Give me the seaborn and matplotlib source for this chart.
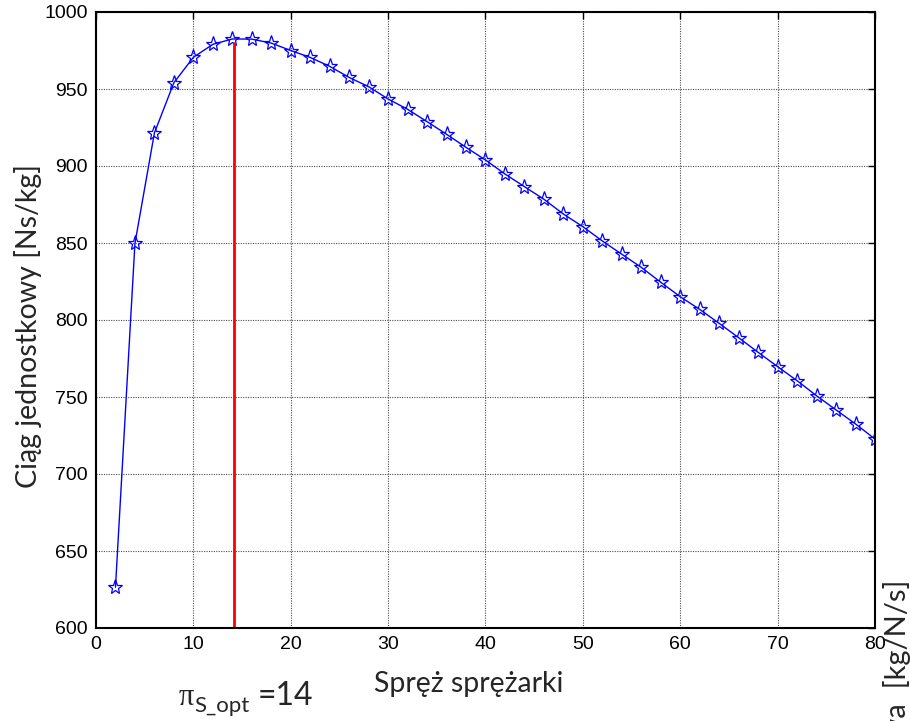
import matplotlib
matplotlib.use("Agg")
import matplotlib.pyplot as plt
import seaborn as sns
import numpy as np
import pandas as pd

# ---- data ----
spreż = [2, 4, 6, 8, 10, 12, 14, 16, 18, 20, 22, 24, 26, 28, 30, 32, 34, 36, 38, 40,
         42, 44, 46, 48, 50, 52, 54, 56, 58, 60, 62, 64, 66, 68, 70, 72, 74, 76, 78, 80]
ciag = [626.5, 849.8, 921.5, 954.1, 970.6, 979.0, 982.5, 982.4, 979.8, 975.0,
        970.5, 964.7, 957.5, 951.5, 943.5, 936.8, 928.8, 920.6, 912.1, 903.9,
        894.8, 886.6, 878.4, 868.8, 860.6, 851.3, 842.7, 834.2, 824.5, 815.1,
        806.9, 797.8, 788.5, 779.0, 769.7, 760.6, 750.8, 741.6, 732.5, 722.7]
opt_x = 14.2
opt_top = 980.0
x_ticks = [0, 10, 20, 30, 40, 50, 60, 70, 80]
y_ticks = [600, 650, 700, 750, 800, 850, 900, 950, 1000]

df = pd.DataFrame({"spr": spreż, "ciag": ciag})

sns.set_style("white")
plt.rcParams["font.family"] = ["Liberation Sans", "DejaVu Sans"]

fig = plt.figure(figsize=(9.10, 7.21), dpi=100)
ax = fig.add_axes([96/910, 1-628/721, (875-96)/910, (628-12)/721])

sns.lineplot(data=df, x="spr", y="ciag", ax=ax, color="blue", linewidth=1.0,
             marker="*", markersize=11, markerfacecolor="none",
             markeredgecolor="blue", markeredgewidth=0.9)
ax.plot([opt_x, opt_x], [y_ticks[0], opt_top], color="red", linewidth=2.0)

ax.set_xlim(0, 80)
ax.set_ylim(600, 1000)
ax.set_xticks(x_ticks)
ax.set_yticks(y_ticks)
ax.set_xlabel("")
ax.set_ylabel("")
ax.grid(True, color="0.3", linestyle=(0, (1, 1.2)), linewidth=0.8)
ax.tick_params(direction="in", top=True, right=True, length=5, width=1,
               labelsize=14, pad=6, colors="black")
for s in ax.spines.values():
    s.set_color("black")
    s.set_linewidth(1.5)

lab = ["Lato", "DejaVu Sans"]
fig.text(28/910, 1-326/721, "Ciąg jednostkowy [Ns/kg]", rotation=90,
         ha="center", va="center", fontsize=20.5, family=lab)
fig.text(374/910, 1-692/721, "Spręż sprężarki", ha="left", va="baseline",
         fontsize=20.5, family=lab)
fig.text(179/910, 1-705/721, "π", ha="left", va="baseline", fontsize=22,
         family=["Liberation Serif", "DejaVu Serif"])
fig.text(194/910, 1-712/721, "S_opt", ha="left", va="baseline", fontsize=16,
         family=lab)
fig.text(258/910, 1-705/721, "=14", ha="left", va="baseline", fontsize=23,
         family=lab)
fig.text(906/910, 1-580/721, "Jednostkowe zużycie paliwa  [kg/N/s]", rotation=90,
         rotation_mode="anchor", ha="right", va="baseline", fontsize=21,
         family=lab)

fig.savefig("out.png", dpi=100)
